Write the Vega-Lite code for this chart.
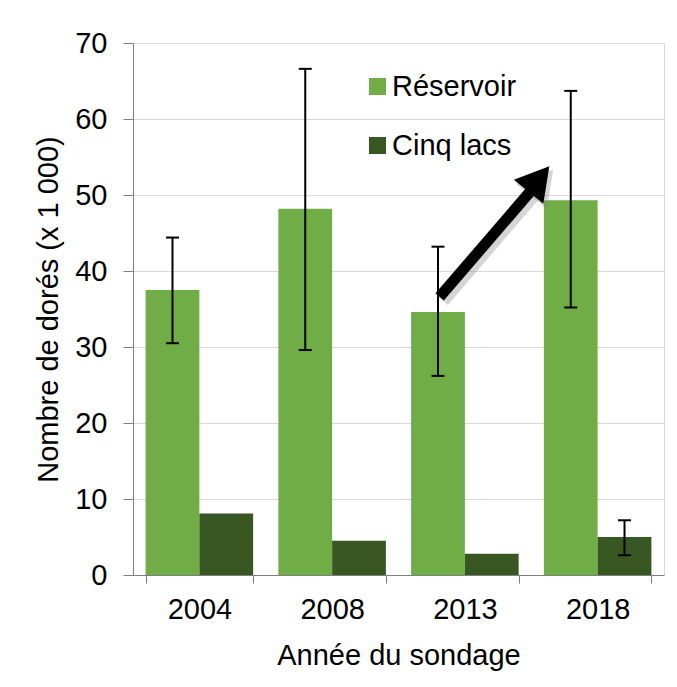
{
  "$schema": "https://vega.github.io/schema/vega-lite/v6.json",
  "width": 531,
  "height": 532,
  "autosize": {"type": "none"},
  "padding": {"left": 133, "top": 43, "right": 13, "bottom": 112},
  "background": "white",
  "config": {
    "font": "Liberation Sans",
    "view": {"stroke": "#d9d9d9", "strokeWidth": 1},
    "axis": {
      "labelFont": "Liberation Sans",
      "titleFont": "Liberation Sans",
      "labelFontSize": 29,
      "titleFontSize": 29,
      "labelColor": "black",
      "titleColor": "black",
      "titleFontWeight": "normal",
      "domainColor": "#7f7f7f",
      "tickColor": "#7f7f7f",
      "gridColor": "#d9d9d9"
    },
    "legend": {
      "orient": "none",
      "legendX": 230,
      "legendY": 29,
      "labelFont": "Liberation Sans",
      "labelFontSize": 29,
      "labelColor": "black",
      "symbolType": "square",
      "symbolSize": 289,
      "symbolStrokeWidth": 0,
      "labelOffset": 0,
      "rowPadding": 29,
      "padding": 0
    }
  },
  "datasets": {
    "bars": [
      {"year": "2004", "series": "Réservoir", "value": 37.5, "lo": 30.5, "hi": 44.4},
      {"year": "2008", "series": "Réservoir", "value": 48.2, "lo": 29.6, "hi": 66.6},
      {"year": "2013", "series": "Réservoir", "value": 34.6, "lo": 26.2, "hi": 43.2},
      {"year": "2018", "series": "Réservoir", "value": 49.3, "lo": 35.2, "hi": 63.7},
      {"year": "2004", "series": "Cinq lacs", "value": 8.1},
      {"year": "2008", "series": "Cinq lacs", "value": 4.5},
      {"year": "2013", "series": "Cinq lacs", "value": 2.8},
      {"year": "2018", "series": "Cinq lacs", "value": 5.0, "lo": 2.6, "hi": 7.2}
    ],
    "arrow": [
      {"x": 2.31, "y": 36.6, "x2": 3.0, "y2": 50.6}
    ],
    "arrowShadow": [
      {"x": 2.335, "y": 36.1, "x2": 3.025, "y2": 50.1}
    ],
    "head": [
      {"x": 3.058, "y": 52.1}
    ],
    "headShadow": [
      {"x": 3.083, "y": 51.6}
    ]
  },
  "layer": [
    {
      "data": {"name": "bars"},
      "encoding": {
        "x": {
          "field": "year",
          "type": "nominal",
          "sort": ["2004", "2008", "2013", "2018"],
          "scale": {"paddingInner": 0.19, "paddingOuter": 0.095},
          "axis": {
            "title": "Année du sondage",
            "labelAngle": 0,
            "tickSize": 8,
            "labelPadding": 12,
            "titlePadding": 17,
            "tickBand": "extent",
            "grid": false
          }
        },
        "xOffset": {
          "field": "series",
          "type": "nominal",
          "sort": ["Réservoir", "Cinq lacs"],
          "scale": {"paddingInner": 0, "paddingOuter": 0}
        }
      },
      "layer": [
        {
          "mark": {"type": "bar"},
          "encoding": {
            "y": {
              "field": "value",
              "type": "quantitative",
              "title": "Nombre de dorés (x 1 000)",
              "scale": {"domain": [0, 70], "nice": false},
              "axis": {
                "values": [0, 10, 20, 30, 40, 50, 60, 70],
                "tickSize": 10,
                "labelPadding": 16,
                "titlePadding": 11,
                "grid": true
              }
            },
            "color": {
              "field": "series",
              "type": "nominal",
              "title": null,
              "sort": ["Réservoir", "Cinq lacs"],
              "scale": {"domain": ["Réservoir", "Cinq lacs"], "range": ["#70ad47", "#385723"]}
            }
          }
        },
        {
          "transform": [{"filter": "datum.lo != null"}],
          "mark": {"type": "rule", "color": "black", "strokeWidth": 2},
          "encoding": {
            "y": {"field": "lo", "type": "quantitative", "title": "Nombre de dorés (x 1 000)", "scale": {"domain": [0, 70], "nice": false}},
            "y2": {"field": "hi"}
          }
        },
        {
          "transform": [{"filter": "datum.lo != null"}],
          "mark": {"type": "tick", "color": "black", "thickness": 2, "size": 13, "orient": "horizontal", "opacity": 1},
          "encoding": {
            "y": {"field": "lo", "type": "quantitative", "title": "Nombre de dorés (x 1 000)", "scale": {"domain": [0, 70], "nice": false}}
          }
        },
        {
          "transform": [{"filter": "datum.lo != null"}],
          "mark": {"type": "tick", "color": "black", "thickness": 2, "size": 13, "orient": "horizontal", "opacity": 1},
          "encoding": {
            "y": {"field": "hi", "type": "quantitative", "title": "Nombre de dorés (x 1 000)", "scale": {"domain": [0, 70], "nice": false}}
          }
        }
      ]
    },
    {
      "data": {"name": "arrowShadow"},
      "mark": {"type": "rule", "color": "#888888", "opacity": 0.35, "strokeWidth": 13, "strokeCap": "butt"},
      "encoding": {
        "x": {"field": "x", "type": "quantitative", "scale": {"domain": [0, 4], "nice": false, "zero": false}, "axis": null},
        "x2": {"field": "x2"},
        "y": {"field": "y", "type": "quantitative", "title": "Nombre de dorés (x 1 000)", "scale": {"domain": [0, 70], "nice": false}},
        "y2": {"field": "y2"}
      }
    },
    {
      "data": {"name": "headShadow"},
      "mark": {"type": "point", "shape": "triangle-up", "filled": true, "color": "#888888", "opacity": 0.35, "size": 1600, "angle": 39, "strokeWidth": 0},
      "encoding": {
        "x": {"field": "x", "type": "quantitative", "scale": {"domain": [0, 4], "nice": false, "zero": false}, "axis": null},
        "y": {"field": "y", "type": "quantitative", "title": "Nombre de dorés (x 1 000)", "scale": {"domain": [0, 70], "nice": false}}
      }
    },
    {
      "data": {"name": "arrow"},
      "mark": {"type": "rule", "color": "black", "strokeWidth": 11, "strokeCap": "butt"},
      "encoding": {
        "x": {"field": "x", "type": "quantitative", "scale": {"domain": [0, 4], "nice": false, "zero": false}, "axis": null},
        "x2": {"field": "x2"},
        "y": {"field": "y", "type": "quantitative", "title": "Nombre de dorés (x 1 000)", "scale": {"domain": [0, 70], "nice": false}},
        "y2": {"field": "y2"}
      }
    },
    {
      "data": {"name": "head"},
      "mark": {"type": "point", "shape": "triangle-up", "filled": true, "color": "black", "opacity": 1, "size": 1444, "angle": 39, "strokeWidth": 0},
      "encoding": {
        "x": {"field": "x", "type": "quantitative", "scale": {"domain": [0, 4], "nice": false, "zero": false}, "axis": null},
        "y": {"field": "y", "type": "quantitative", "title": "Nombre de dorés (x 1 000)", "scale": {"domain": [0, 70], "nice": false}}
      }
    }
  ],
  "resolve": {"scale": {"x": "independent"}}
}
